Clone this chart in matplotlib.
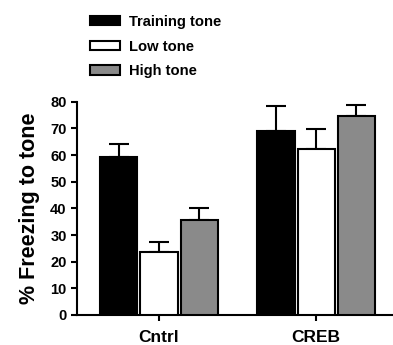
import matplotlib
matplotlib.use("Agg")
import matplotlib.pyplot as plt
import numpy as np

plt.rcParams['font.family'] = ['Liberation Sans', 'DejaVu Sans']
plt.rcParams['font.weight'] = 'bold'

groups = ["Cntrl", "CREB"]
series = ["Training tone", "Low tone", "High tone"]
means = {
    "Training tone": [59.4, 69.1],
    "Low tone": [23.7, 62.2],
    "High tone": [35.6, 74.6],
}
errs = {
    "Training tone": [4.7, 9.3],
    "Low tone": [3.6, 7.4],
    "High tone": [4.4, 4.2],
}
colors = {"Training tone": "black", "Low tone": "white", "High tone": "#8a8a8a"}
yticks = [0, 10, 20, 30, 40, 50, 60, 70, 80]

fig = plt.figure(figsize=(3.93, 3.45), dpi=100)
ax = fig.add_axes([0.196, 0.087, 0.804, 0.618])

x = np.arange(len(groups))
step = 0.255
width = 0.236
handles = []
for i, s in enumerate(series):
    pos = x + (i - 1) * step
    b = ax.bar(pos, means[s], width=width, color=colors[s], edgecolor="black",
               linewidth=1.5, zorder=3, label=s)
    handles.append(b)
    ax.errorbar(pos, means[s], yerr=[np.zeros(len(groups)), errs[s]], fmt="none",
                ecolor="black", elinewidth=1.5, capsize=7, capthick=1.5, zorder=2)

ax.set_xlim(-0.522, 1.49)
ax.set_ylim(0, 80)
ax.set_yticks(yticks)
ax.set_xticks(x)
ax.set_xticklabels(groups, fontsize=12.5, fontweight="bold")
ax.tick_params(axis="y", labelsize=10.5, width=1.5, length=4, pad=3.5)
ax.tick_params(axis="x", width=1.5, length=4, pad=6.5)
for lab in ax.get_yticklabels():
    lab.set_fontweight("bold")
ax.spines["top"].set_visible(False)
ax.spines["right"].set_visible(False)
ax.spines["left"].set_linewidth(1.5)
ax.spines["bottom"].set_linewidth(1.5)
ax.spines["left"].set_bounds(0, 80)
ax.set_ylabel("% Freezing to tone", fontsize=15.5, fontweight="bold", labelpad=7)

leg = fig.legend(handles=handles, labels=series, loc="upper left",
                 bbox_to_anchor=(90 / 393, 1 - 15 / 345), frameon=False,
                 fontsize=10.6, handlelength=2.05, handleheight=0.6,
                 handletextpad=0.6, labelspacing=0.72, borderpad=0, borderaxespad=0)
for t in leg.get_texts():
    t.set_fontweight("bold")

fig.savefig("out.png", dpi=100)
